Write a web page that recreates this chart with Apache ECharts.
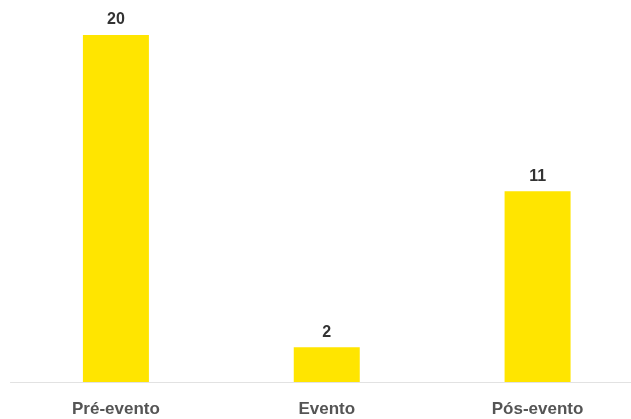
<!DOCTYPE html>
<html>
<head>
<meta charset="utf-8">
<script src="https://cdn.jsdelivr.net/npm/echarts@6/dist/echarts.min.js"></script>
<style>
  html, body { margin: 0; padding: 0; background: #ffffff; }
  #chart { width: 631px; height: 419px; }
</style>
</head>
<body>
<div id="chart"></div>
<script>
// Bar chart: counts before, during and after the event
const categories = ['Pré-evento', 'Evento', 'Pós-evento'];
const values = [20, 2, 11];

const chart = echarts.init(document.getElementById('chart'), null, { renderer: 'canvas' });

chart.setOption({
  animation: false,
  backgroundColor: '#ffffff',
  grid: {
    left: 10.5, right: -12, top: 35, bottom: 37,
    containLabel: false,
    outerBoundsMode: 'none'
  },
  xAxis: {
    type: 'category',
    data: categories,
    boundaryGap: true,
    axisLine: { show: true, lineStyle: { color: '#e2e2e2', width: 1 } },
    axisTick: { show: false },
    axisLabel: {
      margin: 19,
      color: '#555555',
      fontFamily: 'Liberation Sans, Arial, sans-serif',
      fontWeight: 'bold',
      fontSize: 17
    }
  },
  yAxis: {
    type: 'value',
    min: 0,
    max: 20,
    show: false,
    splitLine: { show: false }
  },
  series: [{
    type: 'bar',
    data: values,
    barWidth: 66,
    itemStyle: { color: '#ffe500' },
    label: {
      show: true,
      position: 'top',
      distance: 7,
      color: '#333333',
      fontFamily: 'Liberation Sans, Arial, sans-serif',
      fontWeight: 'bold',
      fontSize: 16
    }
  }]
});
</script>
</body>
</html>
